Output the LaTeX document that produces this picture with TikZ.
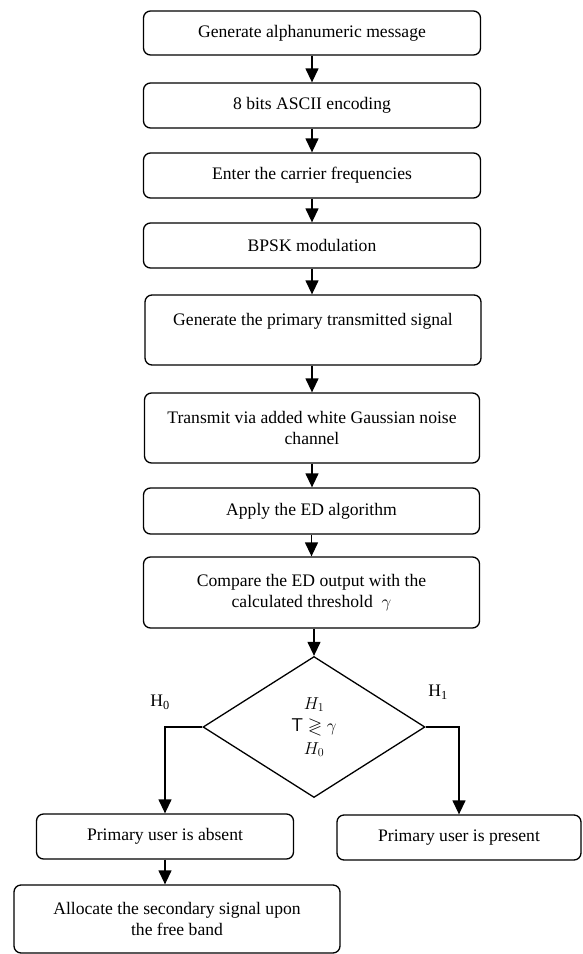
\documentclass[tikz,border=0pt]{standalone}
\usepackage{fontspec}
\usepackage{amssymb}
\setmainfont{Liberation Serif}
\usetikzlibrary{arrows.meta,shapes.geometric}
\begin{document}
\begin{tikzpicture}[x=1pt,y=-1pt,
  every node/.style={font=\fontsize{17.6}{20.8}\selectfont},
  procbox/.style={draw,rounded corners=7pt,line width=1.3pt,align=center,inner sep=0pt},
  decbox/.style={draw,diamond,line width=1.3pt,align=center,inner sep=0pt,minimum width=222pt,minimum height=141pt,aspect=1.57,font=\fontsize{18.5}{21.5}\selectfont},
  arr/.style={line width=1.3pt,-{Triangle[length=14pt,width=13pt]}},
  lbl/.style={inner sep=0pt}]
\useasboundingbox (0,0) rectangle (583,954);
\node[procbox,minimum width=337pt,minimum height=44pt] (b1) at (312,33) {Generate alphanumeric message};
\node[procbox,minimum width=337pt,minimum height=45pt] (b2) at (312,105.5) {8 bits ASCII encoding};
\node[procbox,minimum width=337pt,minimum height=45pt] (b3) at (312,175.5) {Enter the carrier frequencies};
\node[procbox,minimum width=337pt,minimum height=45pt] (b4) at (312,245.5) {BPSK modulation};
\node[procbox,minimum width=336pt,minimum height=70pt] (b5) at (313,330) {Generate the primary transmitted signal\\ \mbox{}};
\node[procbox,minimum width=335pt,minimum height=70pt] (b6) at (312,428) {Transmit via added white Gaussian noise\\channel};
\node[procbox,minimum width=336pt,minimum height=46pt] (b7) at (311.5,511) {Apply the ED algorithm};
\node[procbox,minimum width=336pt,minimum height=71pt] (b8) at (311.5,592.5) {Compare the ED output with the\\calculated threshold \ $\gamma$};
\node[decbox] (dia) at (314,727) {$H_1$\\[1pt]\textsf{T} $\gtrless$ $\gamma$\\[1pt]$H_0$};
\node[procbox,minimum width=257pt,minimum height=45pt] (abs) at (165,836.5) {Primary user is absent};
\node[procbox,minimum width=326pt,minimum height=68pt] (alloc) at (177,919) {Allocate the secondary signal upon\\the free band};
\node[procbox,minimum width=244pt,minimum height=45pt] (pres) at (459,837.5) {Primary user is present};
\node[lbl] (h0) at (160,702) {H\textsubscript{0}};
\node[lbl] (h1) at (438,692) {H\textsubscript{1}};
\draw[arr] (b1.south) -- (b2.north);
\draw[arr] (b2.south) -- (b3.north);
\draw[arr] (b3.south) -- (b4.north);
\draw[arr] (b4.south) -- (b4.south |- b5.north);
\draw[arr] (b5.south -| b6.north) -- (b6.north);
\draw[arr] (b6.south) -- (b6.south |- b7.north);
\draw[arr] (b7.south) -- (b8.north);
\draw[arr] (b8.south -| dia.north) -- (dia.north);
\draw[arr] (dia.west) -| (abs.north);
\draw[arr] (dia.east) -| (pres.north);
\draw[arr] (abs.south) -- (abs.south |- alloc.north);
\end{tikzpicture}
\end{document}
